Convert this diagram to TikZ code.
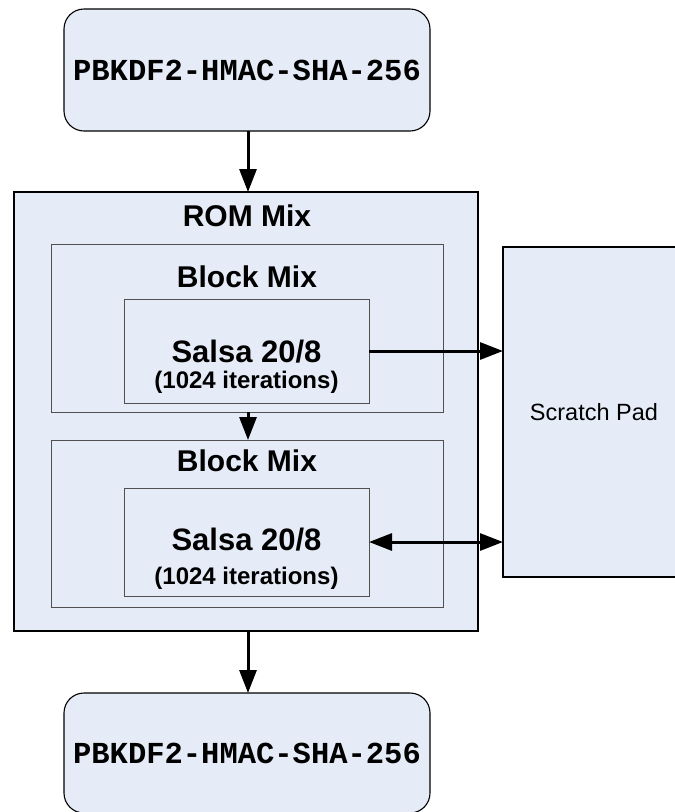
\documentclass[tikz,border=0pt]{standalone}
\usepackage{fontspec}
\setmainfont{Liberation Sans}
\newfontfamily\cour{Liberation Mono}
\usetikzlibrary{arrows.meta}
\definecolor{fillb}{HTML}{E6ECF7}
\definecolor{edgeg}{HTML}{505050}
\begin{document}
\begin{tikzpicture}[x=1pt,y=-1pt,
  box/.style={draw=black, fill=fillb, line width=1.1pt, inner sep=0pt, outer sep=0pt},
  rbox/.style={box, rounded corners=20pt},
  ibox/.style={box, draw=edgeg, line width=1pt},
  kdftext/.style={font=\cour\bfseries\fontsize{30.5}{32}\selectfont},
  title/.style={font=\bfseries\fontsize{30}{32}\selectfont, inner sep=0pt},
  stitle/.style={font=\bfseries\fontsize{31}{33}\selectfont, inner sep=0pt},
  sub/.style={font=\bfseries\fontsize{24}{26}\selectfont, inner sep=0pt},
  arr/.style={line width=3pt, -{Triangle[length=23pt,width=17pt]}},
  darr/.style={line width=3pt, {Triangle[length=23pt,width=17pt]}-{Triangle[length=23pt,width=17pt]}}
]
\useasboundingbox (0,0) rectangle (675,812);
\clip (0,0) rectangle (675,812);

\node[rbox, minimum width=366pt, minimum height=122pt, kdftext] (kdf1) at (247,70) {PBKDF2-HMAC-SHA-256};

\node[box, minimum width=464pt, minimum height=439pt] (rom) at (246,411.5) {};
\node[title] (romt) at (247,216) {ROM Mix};

\node[ibox, minimum width=392pt, minimum height=168pt] (blk1) at (247,328) {};
\node[title] (blk1t) at (247,277) {Block Mix};
\node[ibox, minimum width=245pt, minimum height=104pt] (sal1) at (246.5,351) {};
\node[stitle] (sal1t) at (246.5,352) {Salsa 20/8};
\node[sub] (sal1s) at (246.5,382) {(1024 iterations)};

\node[ibox, minimum width=392pt, minimum height=167pt] (blk2) at (247,523.5) {};
\node[title] (blk2t) at (247,461) {Block Mix};
\node[ibox, minimum width=245pt, minimum height=108pt] (sal2) at (246.5,542) {};
\node[stitle] (sal2t) at (246.5,540) {Salsa 20/8};
\node[sub] (sal2s) at (246.5,578) {(1024 iterations)};

\node[box, minimum width=180pt, minimum height=330pt] (pad) at (593,412) {};
\node[font=\fontsize{23.5}{26}\selectfont, inner sep=0pt] (padt) at (594,412) {Scratch Pad};

\node[rbox, minimum width=366pt, minimum height=120pt, kdftext] (kdf2) at (247,753) {PBKDF2-HMAC-SHA-256};

\draw[arr] (kdf1.south -| 248,0) -- (rom.north -| 248,0);
\draw[arr] (blk1.south -| 248,0) -- (blk2.north -| 248,0);
\draw[arr] (sal1.east) -- (sal1.east -| pad.west);
\draw[darr] (sal2.east) -- (sal2.east -| pad.west);
\draw[arr] (rom.south -| 248,0) -- (kdf2.north -| 248,0);
\end{tikzpicture}
\end{document}
